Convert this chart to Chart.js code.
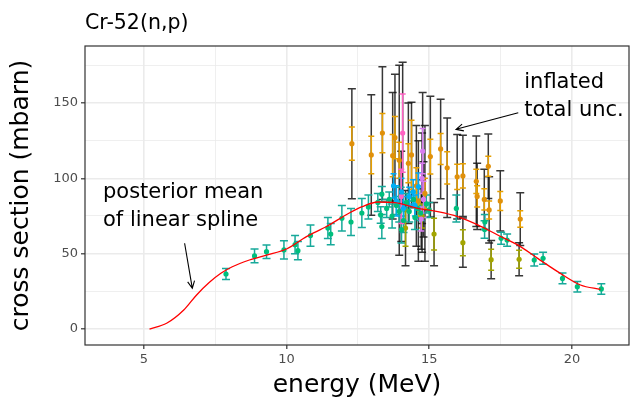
<!DOCTYPE html>
<html>
<head>
<meta charset="utf-8">
<script src="https://cdn.jsdelivr.net/npm/chart.js@4.4.1/dist/chart.umd.min.js"></script>
<style>
  html, body { margin: 0; padding: 0; background: #fff; }
  #wrap { width: 633px; height: 402px; }
</style>
</head>
<body>
<div id="wrap"><canvas id="chart"></canvas></div>
<script>
// --- courbe : moyenne a posteriori ---
const lineX = [5.2, 5.8, 6.4, 6.85, 7.3, 7.7, 8.1, 8.7, 9.3, 10.0, 10.7, 11.4, 12.2, 12.65, 13.2, 13.8, 14.6, 15.3, 16.0, 16.7, 17.4, 18.1, 18.8, 19.5, 20.3, 21.0];
const lineY = [0, 3.8, 12.6, 22.6, 31, 37, 41.3, 45.8, 49.1, 53.1, 61.3, 68, 77, 81.2, 84.3, 83.9, 80.1, 77.9, 74.6, 69.1, 62.4, 55.8, 46.9, 38.1, 29.2, 26.3];

// --- mesures (vert / turquoise) ---
const tealX = [7.88, 8.88, 9.30, 9.91, 10.30, 10.40, 10.84, 11.45, 11.55, 11.94, 12.26, 12.64, 12.87, 13.20, 13.30, 13.34, 13.34, 13.51, 13.60, 13.70, 13.85, 13.95, 14.00, 14.03, 14.10, 14.20, 14.30, 14.45, 14.50, 14.60, 14.70, 14.90, 15.00, 15.95, 16.94, 16.95, 17.52, 17.73, 18.68, 18.99, 19.67, 20.19, 21.03];
const tealY = [36.5, 48.5, 51.3, 52.5, 56, 52, 62, 67, 63, 73.5, 71, 77, 81, 84, 75.7, 89.5, 68, 80, 86, 75, 82, 78, 88, 66, 72, 84, 78, 86, 74, 80, 77, 83, 79, 80, 66, 71, 60.2, 59, 45.8, 46.9, 33.6, 28.1, 26.6];
const tealErr = [3.7, 4.6, 4.5, 6, 6, 6, 7, 7, 7, 8.5, 9, 9.6, 8, 6, 5.5, 5, 8, 6, 5, 8, 6, 7, 6, 9, 8, 6, 7, 5, 8, 6, 5, 6, 5, 9, 5.8, 5, 4, 4, 4, 4, 3.5, 3.5, 3.5];

// --- mesures (orange) + incertitude gonflée ---
const orangeX = [12.29, 12.97, 13.36, 13.72, 13.80, 13.95, 14.27, 14.38, 14.55, 14.62, 14.85, 15.04, 15.40, 15.63, 15.98, 16.18, 16.65, 16.68, 16.93, 17.07, 17.10, 17.49, 18.19];
const orangeY = [123, 115.5, 130, 115, 127, 112, 110, 115.5, 95, 85, 90, 114.4, 119.5, 107, 101, 101.6, 98, 88, 86, 108, 79, 85, 73];
const orangeErr = [11, 12.4, 13, 14, 14, 12, 13, 23, 12, 10, 10, 11.5, 10.3, 10.7, 8.4, 8, 8, 7, 7, 6.6, 6, 6.3, 5.5];
const orangeInfl = [36.5, 40, 44, 42, 42, 63, 40, 35, 40, 40, 45, 40, 33, 33, 28, 27, 30, 22, 20, 21.4, 22, 20, 17.5];

// --- mesures (olive) ---
const oliveX = [14.17, 14.75, 15.17, 16.18, 17.17, 18.15];
const oliveY = [67, 75, 63, 57.3, 46, 46.3];
const oliveErr = [12, 8, 10.5, 8.6, 7, 6];
const oliveInfl = [25, 24, 21, 16.3, 12.7, 11];

// --- mesures (bleu) ---
const blueX = [13.75, 13.85, 14.03, 14.10, 14.30, 14.44, 14.50, 14.62];
const blueY = [95, 85, 91, 80, 88, 91, 82, 94.5];
const blueErr = [8, 10, 9, 8, 6, 8, 7, 9];

// --- mesures (rose / violet) ---
const pinkX = [14.07, 14.02];
const pinkY = [130, 88];
const pinkErr = [26, 18];
const pinkInfl = [47, 30];
const violetX = [14.77, 14.75, 14.80, 14.72];
const violetY = [118, 100, 86, 73];
const violetErr = [15, 10, 12, 8];
const violetInfl = [39, 30, 25, 20];

const xTicks = [5, 10, 15, 20];
const yTicks = [0, 50, 100, 150];

const FONT = 'DejaVu Sans';
const pts = (xs, ys) => xs.map((v, i) => ({ x: v, y: ys[i] }));

// barres d'erreur : d'abord les noires (gonflées), puis les couleurs
const barGroups = [
    { xs: orangeX, ys: orangeY, errs: orangeInfl, color: 'rgba(20,20,20,0.85)', cap: 4 },
    { xs: oliveX, ys: oliveY, errs: oliveInfl, color: 'rgba(20,20,20,0.85)', cap: 4 },
    { xs: pinkX, ys: pinkY, errs: pinkInfl, color: 'rgba(20,20,20,0.85)', cap: 4 },
    { xs: violetX, ys: violetY, errs: violetInfl, color: 'rgba(20,20,20,0.85)', cap: 4 },
    { xs: tealX, ys: tealY, errs: tealErr, color: '#17A99A', cap: 4 },
    { xs: orangeX, ys: orangeY, errs: orangeErr, color: '#E69F00', cap: 3 },
    { xs: oliveX, ys: oliveY, errs: oliveErr, color: '#A3A500', cap: 3 },
    { xs: blueX, ys: blueY, errs: blueErr, color: '#00A9F0', cap: 3 },
    { xs: pinkX, ys: pinkY, errs: pinkErr, color: '#FF61C3', cap: 3 },
    { xs: violetX, ys: violetY, errs: violetErr, color: '#D77BF0', cap: 3 }
];

const errorBars = {
    id: 'errorBars',
    beforeDatasetsDraw(chart) {
        const { ctx, chartArea: a, scales: { x, y } } = chart;
        ctx.save();
        ctx.beginPath();
        ctx.rect(a.left, a.top, a.right - a.left, a.bottom - a.top);
        ctx.clip();
        ctx.lineWidth = 1.5;
        for (const g of barGroups) {
            ctx.strokeStyle = g.color;
            g.xs.forEach((xv, i) => {
                const px = x.getPixelForValue(xv);
                const top = y.getPixelForValue(g.ys[i] + g.errs[i]);
                const bot = y.getPixelForValue(g.ys[i] - g.errs[i]);
                ctx.beginPath();
                ctx.moveTo(px, top); ctx.lineTo(px, bot);
                ctx.moveTo(px - g.cap, top); ctx.lineTo(px + g.cap, top);
                ctx.moveTo(px - g.cap, bot); ctx.lineTo(px + g.cap, bot);
                ctx.stroke();
            });
        }
        ctx.restore();
    }
};

function arrow(ctx, x1, y1, x2, y2) {
    const ang = Math.atan2(y2 - y1, x2 - x1), len = 8, spread = Math.PI / 7;
    ctx.beginPath();
    ctx.moveTo(x1, y1); ctx.lineTo(x2, y2);
    ctx.moveTo(x2 - len * Math.cos(ang - spread), y2 - len * Math.sin(ang - spread));
    ctx.lineTo(x2, y2);
    ctx.lineTo(x2 - len * Math.cos(ang + spread), y2 - len * Math.sin(ang + spread));
    ctx.stroke();
}

// cadre, titre, annotations
const decor = {
    id: 'decor',
    afterDraw(chart) {
        const { ctx, chartArea: a, scales: { x, y } } = chart;
        ctx.save();
        ctx.strokeStyle = '#333333';
        ctx.lineWidth = 1.2;
        ctx.strokeRect(a.left, a.top, a.right - a.left, a.bottom - a.top);

        ctx.fillStyle = '#000';
        ctx.textBaseline = 'alphabetic';
        ctx.textAlign = 'left';
        ctx.font = `20.5px "${FONT}"`;
        ctx.fillText('Cr-52(n,p)', a.left, 29);

        ctx.font = `21px "${FONT}"`;
        const tx = x.getPixelForValue(3.57), ty = y.getPixelForValue(87);
        ctx.fillText('posterior mean', tx, ty);
        ctx.fillText('of linear spline', tx, ty + 28.5);
        const ix = x.getPixelForValue(18.33), iy = y.getPixelForValue(160);
        ctx.fillText('inflated', ix, iy);
        ctx.fillText('total unc.', ix, iy + 28.5);

        ctx.strokeStyle = '#000';
        ctx.lineWidth = 1.1;
        arrow(ctx, x.getPixelForValue(6.43), y.getPixelForValue(56.9), x.getPixelForValue(6.70), y.getPixelForValue(27));
        arrow(ctx, x.getPixelForValue(18.12), y.getPixelForValue(143.5), x.getPixelForValue(15.94), y.getPixelForValue(132.5));
        ctx.restore();
    }
};

const isMajor = (v, list) => list.includes(v);

function axisOpts(min, max, step, list, title, titlePad, fit) {
    return {
        type: 'linear', min: min, max: max,
        border: { display: false },
        grid: {
            color: '#EBEBEB',
            lineWidth: c => (c.tick && isMajor(c.tick.value, list)) ? 1.6 : 0.8,
            tickLength: 4,
            tickWidth: 1.2,
            tickColor: c => (c.tick && isMajor(c.tick.value, list)) ? '#333333' : 'rgba(0,0,0,0)'
        },
        ticks: {
            stepSize: step, includeBounds: false, autoSkip: false, maxRotation: 0,
            padding: 3, color: '#4D4D4D', font: { family: FONT, size: 13 },
            callback: v => isMajor(v, list) ? String(v) : ''
        },
        title: { display: true, text: title, color: '#000', font: { family: FONT, size: 25 }, padding: titlePad },
        afterFit: fit
    };
}

new Chart(document.getElementById('chart'), {
    data: {
        datasets: [
            { type: 'line', data: pts(lineX, lineY), borderColor: '#FF0000', borderWidth: 1.3, pointRadius: 0, cubicInterpolationMode: 'monotone', order: 0 },
            { type: 'scatter', data: pts(tealX, tealY), backgroundColor: '#00BF7D', pointRadius: 2.6, borderWidth: 0, order: 2 },
            { type: 'scatter', data: pts(orangeX, orangeY), backgroundColor: '#E0900A', pointRadius: 2.6, borderWidth: 0, order: 3 },
            { type: 'scatter', data: pts(oliveX, oliveY), backgroundColor: '#A3A500', pointRadius: 2.6, borderWidth: 0, order: 3 },
            { type: 'scatter', data: pts(blueX, blueY), backgroundColor: '#00B0F6', pointRadius: 2.6, borderWidth: 0, order: 1 },
            { type: 'scatter', data: pts(pinkX, pinkY), backgroundColor: '#FF61C3', pointRadius: 2.6, borderWidth: 0, order: 1 },
            { type: 'scatter', data: pts(violetX, violetY), backgroundColor: '#D77BF0', pointRadius: 2.6, borderWidth: 0, order: 1 }
        ]
    },
    options: {
        responsive: true, maintainAspectRatio: false, animation: false,
        layout: { padding: { top: 46, right: 2, left: 0, bottom: 0 } },
        plugins: { legend: { display: false }, tooltip: { enabled: false } },
        scales: {
            x: axisOpts(2.94, 22.0, 2.5, xTicks, 'energy (MeV)', { top: 0, bottom: 2 }, s => { s.height = 57; }),
            y: axisOpts(-10.6, 187.8, 25, yTicks, 'cross section (mbarn)', { top: 6, bottom: 0 }, s => { s.width = 85; })
        }
    },
    plugins: [errorBars, decor]
});
</script>
</body>
</html>
